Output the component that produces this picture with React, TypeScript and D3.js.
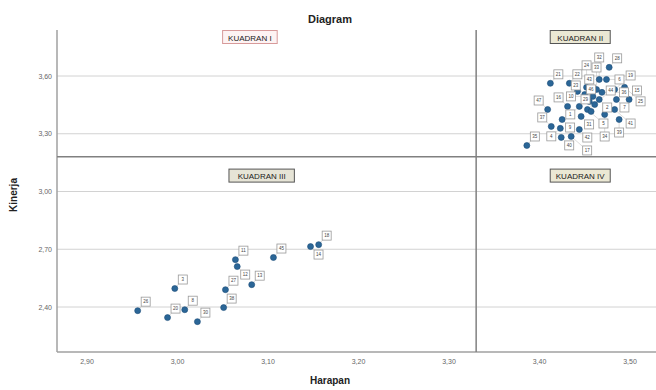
import React from 'react';
import * as d3 from 'd3';

// Harapan (x) / Kinerja (y) per atribut
const caseIds = [
  26, 20, 3, 8, 30, 38, 27, 11, 12, 13, 45, 14, 18,
  35, 37, 21, 9, 22, 4, 40, 16, 1, 31, 5, 24, 10, 33, 2, 43, 28, 6, 19, 7, 41, 15,
  42, 17, 44, 23, 36, 29, 46, 25, 32, 47, 34, 39
];
const harapan = [
  2.956, 2.989, 2.997, 3.008, 3.022, 3.051, 3.053, 3.064, 3.066, 3.082, 3.106, 3.147, 3.156,
  3.386, 3.413, 3.412, 3.425, 3.433, 3.423, 3.424, 3.431, 3.444, 3.446, 3.453, 3.452, 3.459,
  3.463, 3.466, 3.455, 3.477, 3.474, 3.483, 3.485, 3.483, 3.499, 3.444, 3.435, 3.461, 3.450,
  3.469, 3.442, 3.457, 3.494, 3.466, 3.409, 3.472, 3.488
];
const kinerja = [
  2.381, 2.345, 2.496, 2.386, 2.324, 2.397, 2.490, 2.646, 2.610, 2.516, 2.657, 2.714, 2.724,
  3.239, 3.338, 3.562, 3.374, 3.562, 3.328, 3.281, 3.442, 3.442, 3.390, 3.426, 3.541, 3.494,
  3.530, 3.478, 3.468, 3.645, 3.582, 3.530, 3.478, 3.426, 3.478, 3.322, 3.286, 3.452, 3.504,
  3.515, 3.520, 3.416, 3.541, 3.582, 3.426, 3.400, 3.374
];

const xTicks = [2.9, 3.0, 3.1, 3.2, 3.3, 3.4, 3.5];
const yTicks = [2.4, 2.7, 3.0, 3.3, 3.6];

// garis pembagi kuadran (rata-rata)
const meanHarapan = 3.33;
const meanKinerja = 3.18;

const quadrants = [
  { label: 'KUADRAN I', hx: 3.08, ky: 3.80, fill: '#fdf3f3', stroke: '#d79a9a' },
  { label: 'KUADRAN II', hx: 3.445, ky: 3.80, fill: '#ebe8d4', stroke: '#555' },
  { label: 'KUADRAN III', hx: 3.093, ky: 3.08, fill: '#e6e4d6', stroke: '#555' },
  { label: 'KUADRAN IV', hx: 3.445, ky: 3.08, fill: '#ebe8d4', stroke: '#555' }
];

const W = 656;
const H = 390;

// candidate offsets for the little case-number boxes
const offsets = [
  [8, -9], [8, 8], [-9, -9], [-9, 8], [0, -13], [13, 0], [-13, 0], [0, 13],
  [16, -14], [16, 14], [-16, -14], [-16, 14], [0, -22], [22, 0], [-22, 0], [0, 22]
];

const App: React.FC = () => {
  const left = 57;
  const right = 656;
  const top = 30;
  const bottom = 352;

  const x = d3.scaleLinear().domain([2.9, 3.5]).range([87, 630]);
  const y = d3.scaleLinear().domain([2.4, 3.6]).range([307, 76]);
  const fmt = (v: number) => d3.format('.2f')(v).replace('.', ',');

  const points = caseIds.map((id, i) => ({ id, px: x(harapan[i]), py: y(kinerja[i]) }));

  // greedy placement so boxes don't sit on each other
  const bs = 9;
  const placed: { x: number; y: number }[] = [];
  const labels = points.map(p => {
    let best = offsets[0];
    let bestCost = Infinity;
    for (const o of offsets) {
      const bx = p.px + o[0];
      const by = p.py + o[1];
      let cost = 0;
      for (const q of placed) {
        const ox = Math.max(0, bs + 1 - Math.abs(q.x - bx));
        const oy = Math.max(0, bs + 1 - Math.abs(q.y - by));
        cost += ox * oy;
      }
      for (const q of points) {
        const ox = Math.max(0, bs / 2 + 3 - Math.abs(q.px - bx));
        const oy = Math.max(0, bs / 2 + 3 - Math.abs(q.py - by));
        cost += ox * oy * 0.5;
      }
      if (bx + bs / 2 > W - 1) cost += 1000;
      if (cost < bestCost - 0.01) {
        bestCost = cost;
        best = o;
      }
      if (cost === 0) break;
    }
    const l = { x: p.px + best[0], y: p.py + best[1] };
    placed.push(l);
    return l;
  });

  return (
    <div style={{ position: 'absolute', left: 0, top: 0 }}>
      <svg width={W} height={H} style={{ fontFamily: 'Liberation Sans, Arial, sans-serif', display: 'block' }}>
        <rect x={0} y={0} width={W} height={H} fill="#fff" />
        <text x={330} y={23} textAnchor="middle" fontSize={11} fontWeight="bold" fill="#222">Diagram</text>

        {/* gridlines */}
        {yTicks.map(t => (
          <line key={'g' + t} x1={left} x2={right} y1={y(t)} y2={y(t)} stroke="#d2d2d2" strokeWidth={1} />
        ))}

        {/* axes */}
        <line x1={left} x2={left} y1={top} y2={bottom} stroke="#a0a0a0" strokeWidth={1.5} />
        <line x1={left} x2={right} y1={bottom} y2={bottom} stroke="#a0a0a0" strokeWidth={1.5} />

        {yTicks.map(t => (
          <text key={'yl' + t} x={52} y={y(t) + 2.5} textAnchor="end" fontSize={7} fill="#666">{fmt(t)}</text>
        ))}
        {xTicks.map(t => (
          <text key={'xl' + t} x={x(t)} y={364} textAnchor="middle" fontSize={7} fill="#666">{fmt(t)}</text>
        ))}

        {/* reference lines */}
        <line x1={x(meanHarapan)} x2={x(meanHarapan)} y1={top} y2={bottom} stroke="#808080" strokeWidth={1.5} />
        <line x1={left} x2={right} y1={y(meanKinerja)} y2={y(meanKinerja)} stroke="#808080" strokeWidth={1.5} />

        {/* quadrant labels */}
        {quadrants.map(q => {
          const w = q.label.length * 5.4 + 6;
          return (
            <g key={q.label} transform={`translate(${x(q.hx)},${y(q.ky)})`}>
              <rect x={-w / 2} y={-7} width={w} height={13} fill={q.fill} stroke={q.stroke} strokeWidth={1} />
              <text x={0} y={3} textAnchor="middle" fontSize={8} fill="#222">{q.label}</text>
            </g>
          );
        })}

        {/* leader lines */}
        {points.map((p, i) => (
          <line key={'ll' + i} x1={p.px} y1={p.py} x2={labels[i].x} y2={labels[i].y} stroke="#c4c4c4" strokeWidth={0.6} />
        ))}

        {/* points */}
        {points.map((p, i) => (
          <circle key={'pt' + i} cx={p.px} cy={p.py} r={3} fill="#2b6697" stroke="#1d4d78" strokeWidth={0.6} />
        ))}

        {/* case labels */}
        {points.map((p, i) => (
          <g key={'lb' + i}>
            <rect x={labels[i].x - bs / 2} y={labels[i].y - bs / 2} width={bs} height={bs} fill="#fff" stroke="#999" strokeWidth={0.8} />
            <text x={labels[i].x} y={labels[i].y + 1.8} textAnchor="middle" fontSize={4.5} fill="#444">{p.id}</text>
          </g>
        ))}

        <text x={330} y={384} textAnchor="middle" fontSize={10} fontWeight="bold" fill="#222">Harapan</text>
        <text transform="translate(17,195) rotate(-90)" textAnchor="middle" fontSize={10} fontWeight="bold" fill="#222">Kinerja</text>
      </svg>
    </div>
  );
};

export default App;
